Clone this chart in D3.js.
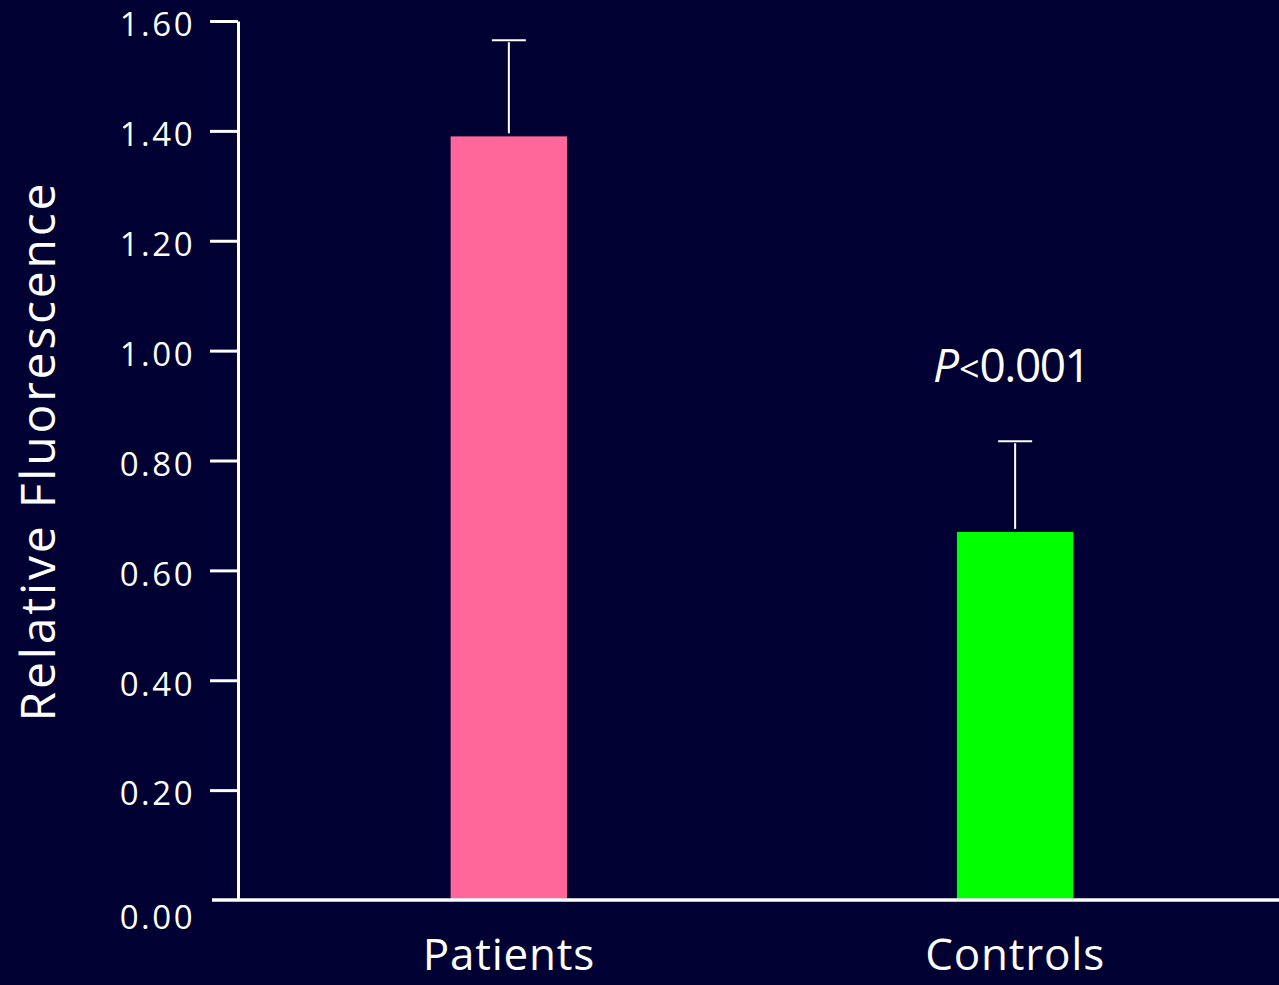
<!DOCTYPE html>
<html>
<head>
<meta charset="utf-8">
<style>
  html, body { margin: 0; padding: 0; background: #000033; }
  svg { display: block; }
  text { font-family: "Open Sans", "Noto Sans", sans-serif; fill: #ffffff; }
</style>
</head>
<body>
<svg id="chart"></svg>

<script src="https://d3js.org/d3.v7.min.js"></script>
<script>
  // chart values
  var categories = ["Patients", "Controls"];
  var means = [1.39, 0.67];
  var errors = [0.175, 0.165];
  var barColors = ["#ff6699", "#00ff00"];
  var tickValues = [0, 0.2, 0.4, 0.6, 0.8, 1.0, 1.2, 1.4, 1.6];
  var tickLabels = ["0.00", "0.20", "0.40", "0.60", "0.80", "1.00", "1.20", "1.40", "1.60"];
  var yTitle = "Relative Fluorescence";
  var pText = "0.001";

  var width = 1279, height = 985;

  var svg = d3.select("#chart")
      .attr("width", width)
      .attr("height", height);

  svg.append("rect")
      .attr("width", width)
      .attr("height", height)
      .attr("fill", "#000033");

  var axisX = 238;

  var y = d3.scaleLinear()
      .domain([0, 1.6])
      .range([900, 21]);

  var x = d3.scaleBand()
      .domain(categories)
      .range([axisX, 1286])
      .paddingInner(0.77)
      .paddingOuter(0.42);

  // bars
  svg.selectAll("rect.bar")
      .data(categories)
      .enter()
      .append("rect")
      .attr("class", "bar")
      .attr("x", function(d) { return x(d); })
      .attr("width", x.bandwidth())
      .attr("y", function(d, i) { return y(means[i]); })
      .attr("height", function(d, i) { return y(0) - y(means[i]); })
      .attr("fill", function(d, i) { return barColors[i]; });

  // error bars (upper half only)
  var err = svg.selectAll("g.err")
      .data(categories)
      .enter()
      .append("g")
      .attr("class", "err");

  err.append("line")
      .attr("x1", function(d) { return x(d) + x.bandwidth() / 2; })
      .attr("x2", function(d) { return x(d) + x.bandwidth() / 2; })
      .attr("y1", function(d, i) { return y(means[i]) - 3; })
      .attr("y2", function(d, i) { return y(means[i] + errors[i]) + 2; })
      .attr("stroke", "#ffffff")
      .attr("stroke-width", 2);

  err.append("line")
      .attr("x1", function(d) { return x(d) + x.bandwidth() / 2 - 17; })
      .attr("x2", function(d) { return x(d) + x.bandwidth() / 2 + 17; })
      .attr("y1", function(d, i) { return y(means[i] + errors[i]); })
      .attr("y2", function(d, i) { return y(means[i] + errors[i]); })
      .attr("stroke", "#ffffff")
      .attr("stroke-width", 2);

  // y axis
  var yAxis = d3.axisLeft(y)
      .tickValues(tickValues)
      .tickFormat(function(d, i) { return tickLabels[i]; })
      .tickSize(28)
      .tickSizeOuter(0)
      .tickPadding(15);

  var gy = svg.append("g")
      .attr("transform", "translate(" + axisX + ",0)")
      .call(yAxis);

  gy.select(".domain")
      .attr("stroke", "#ffffff")
      .attr("stroke-width", 3);

  gy.selectAll(".tick line")
      .attr("stroke", "#ffffff")
      .attr("stroke-width", 3)
      .attr("display", function(d) { return d === 0 ? "none" : null; });

  gy.selectAll(".tick text")
      .attr("fill", "#ffffff")
      .style("font-family", "'Open Sans', sans-serif")
      .style("font-size", "33px")
      .style("letter-spacing", "2.5px")
      .attr("dy", function(d) { return d === 0 ? "0.85em" : "0.45em"; });

  // x axis baseline
  svg.append("line")
      .attr("x1", 212)
      .attr("x2", width)
      .attr("y1", y(0))
      .attr("y2", y(0))
      .attr("stroke", "#ffffff")
      .attr("stroke-width", 3.5);

  // category labels
  svg.selectAll("text.cat")
      .data(categories)
      .enter()
      .append("text")
      .attr("class", "cat")
      .attr("x", function(d) { return x(d) + x.bandwidth() / 2; })
      .attr("y", 970)
      .attr("text-anchor", "middle")
      .style("font-size", "44px")
      .style("letter-spacing", "0.8px")
      .text(function(d) { return d; });

  // y title
  svg.append("text")
      .attr("transform", "translate(55,451) rotate(-90)")
      .attr("text-anchor", "middle")
      .style("font-size", "48px")
      .style("letter-spacing", "2.8px")
      .text(yTitle);

  // significance label
  var pLabel = svg.append("text")
      .attr("x", x("Controls") + x.bandwidth() / 2 - 4)
      .attr("y", 382)
      .attr("text-anchor", "middle")
      .style("font-size", "46px");

  pLabel.append("tspan")
      .style("font-style", "italic")
      .text("P");
  pLabel.append("tspan")
      .style("font-size", "36px")
      .text("<");
  pLabel.append("tspan")
      .style("letter-spacing", "-1.5px")
      .text(pText);
</script>
</body>
</html>
